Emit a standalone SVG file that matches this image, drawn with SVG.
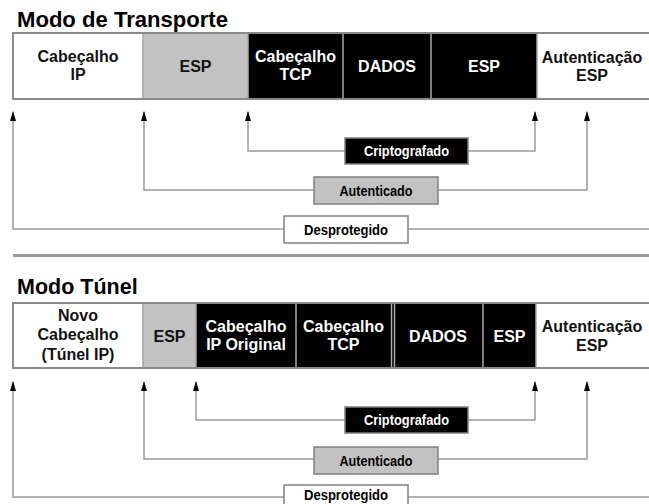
<svg xmlns="http://www.w3.org/2000/svg" width="649" height="504" viewBox="0 0 649 504">
  <defs>
    <marker id="tip" viewBox="0 0 10 6" refX="9" refY="3" markerWidth="10" markerHeight="6" markerUnits="userSpaceOnUse" orient="auto">
      <path d="M0,0 L10,3 L0,6 Z" fill="#000"/>
    </marker>
    <style>
      text { font-family: "Liberation Sans", Arial, sans-serif; font-weight: bold; }
      .title { font-size: 21.5px; fill: #000; }
      .cell { font-size: 16px; text-anchor: middle; }
      .dark { fill: #fff; }
      .lite { fill: #111; }
      .lab { font-size: 14px; text-anchor: middle; }
      .w { fill: #fff; }
      .g { fill: #c2c2c2; }
      .k { fill: #000; }
      .sep { stroke: #a8a8a8; stroke-width: 1.5; fill: none; }
      .edge { stroke: #8a8a8a; stroke-width: 2; fill: none; }
      .wire { stroke: #9a9a9a; stroke-width: 1.5; fill: none; }
      .arrow { stroke: #9a9a9a; stroke-width: 1.5; fill: none; marker-end: url(#tip); }
      .box { stroke: #808080; stroke-width: 1.5; }
    </style>
  </defs>

  <!-- ===== Transport mode ===== -->
  <text class="title" x="17" y="27" textLength="211" lengthAdjust="spacingAndGlyphs">Modo de Transporte</text>

  <g id="t-ip">
    <rect class="w" x="13" y="33" width="130" height="66"/>
    <text class="cell lite" x="78" y="62">Cabeçalho</text>
    <text class="cell lite" x="78" y="80">IP</text>
  </g>
  <g id="t-esp">
    <rect class="g" x="143" y="33" width="105" height="66"/>
    <text class="cell lite" x="195.5" y="72">ESP</text>
  </g>
  <g id="t-tcp">
    <rect class="k" x="248" y="33" width="95" height="66"/>
    <text class="cell dark" x="295.5" y="62">Cabeçalho</text>
    <text class="cell dark" x="295.5" y="80">TCP</text>
  </g>
  <g id="t-dados">
    <rect class="k" x="343" y="33" width="88" height="66"/>
    <text class="cell dark" x="387" y="72">DADOS</text>
  </g>
  <g id="t-esp-trailer">
    <rect class="k" x="431" y="33" width="106" height="66"/>
    <text class="cell dark" x="484" y="72">ESP</text>
  </g>
  <g id="t-auth">
    <rect class="w" x="537" y="33" width="112" height="66"/>
    <text class="cell lite" x="592" y="63">Autenticação</text>
    <text class="cell lite" x="592" y="81">ESP</text>
  </g>
  <!-- cell dividers and frame -->
  <g id="t-frame">
    <path class="sep" d="M143,33 V99 M248,33 V99 M343,33 V99 M431,33 V99 M537,33 V99"/>
    <path class="edge" d="M649,33 H13 V99 H649"/>
  </g>

  <!-- ===== Tunnel mode ===== -->
  <text class="title" x="17" y="294">Modo Túnel</text>

  <g id="u-newip">
    <rect class="w" x="13" y="303" width="130" height="65"/>
    <text class="cell lite" x="78" y="321">Novo</text>
    <text class="cell lite" x="78" y="340">Cabeçalho</text>
    <text class="cell lite" x="78" y="360">(Túnel IP)</text>
  </g>
  <g id="u-esp">
    <rect class="g" x="143" y="303" width="53" height="65"/>
    <text class="cell lite" x="169.5" y="342">ESP</text>
  </g>
  <g id="u-origip">
    <rect class="k" x="196" y="303" width="100" height="65"/>
    <text class="cell dark" x="246" y="332">Cabeçalho</text>
    <text class="cell dark" x="246" y="350">IP Original</text>
  </g>
  <g id="u-tcp">
    <rect class="k" x="296" y="303" width="97" height="65"/>
    <text class="cell dark" x="343.5" y="332">Cabeçalho</text>
    <text class="cell dark" x="343.5" y="350">TCP</text>
  </g>
  <g id="u-dados">
    <rect class="k" x="393" y="303" width="90" height="65"/>
    <text class="cell dark" x="438" y="342">DADOS</text>
  </g>
  <g id="u-esp-trailer">
    <rect class="k" x="483" y="303" width="53" height="65"/>
    <text class="cell dark" x="509.5" y="342">ESP</text>
  </g>
  <g id="u-auth">
    <rect class="w" x="536" y="303" width="113" height="65"/>
    <text class="cell lite" x="592" y="332">Autenticação</text>
    <text class="cell lite" x="592" y="351">ESP</text>
  </g>
  <g id="u-frame">
    <path class="sep" d="M143,303 V368 M196,303 V368 M296,303 V368 M391.5,303 V368 M394.5,303 V368 M483,303 V368 M536,303 V368"/>
    <path class="edge" d="M649,303 H13 V368 H649"/>
  </g>

  <!-- section divider -->
  <line x1="13" y1="255.5" x2="649" y2="255.5" stroke="#9a9a9a" stroke-width="3"/>

  <!-- ===== Coverage brackets ===== -->
  <g id="connectors">
    <!-- transport -->
    <path class="arrow" d="M345,151 H248 V112"/>
    <path class="arrow" d="M468,151 H535 V112"/>
    <path class="arrow" d="M314,190 H144 V112"/>
    <path class="arrow" d="M438,190 H587 V112"/>
    <path class="arrow" d="M284,229 H13 V112"/>
    <path class="wire" d="M408,229 H649"/>
    <!-- tunnel -->
    <path class="arrow" d="M345,420 H196 V382"/>
    <path class="arrow" d="M468,420 H535 V382"/>
    <path class="arrow" d="M314,459 H144 V382"/>
    <path class="arrow" d="M438,459 H587 V382"/>
    <path class="arrow" d="M284,497 H13 V382"/>
    <path class="wire" d="M408,497 H649"/>
  </g>

  <!-- coverage labels -->
  <g id="t-cript">
    <rect class="k box" x="345" y="138" width="123" height="26"/>
    <text class="lab w" x="406.5" y="156" textLength="85" lengthAdjust="spacingAndGlyphs">Criptografado</text>
  </g>
  <g id="t-autent">
    <rect class="g box" x="314" y="177" width="124" height="27"/>
    <text class="lab k" x="376" y="195.5" textLength="73" lengthAdjust="spacingAndGlyphs">Autenticado</text>
  </g>
  <g id="t-desprot">
    <rect class="w box" x="284" y="216" width="124" height="27"/>
    <text class="lab k" x="346" y="234.5" textLength="84" lengthAdjust="spacingAndGlyphs">Desprotegido</text>
  </g>

  <g id="u-cript">
    <rect class="k box" x="345" y="407" width="123" height="26"/>
    <text class="lab w" x="406.5" y="425" textLength="85" lengthAdjust="spacingAndGlyphs">Criptografado</text>
  </g>
  <g id="u-autent">
    <rect class="g box" x="314" y="447" width="124" height="27"/>
    <text class="lab k" x="376" y="465.5" textLength="73" lengthAdjust="spacingAndGlyphs">Autenticado</text>
  </g>
  <g id="u-desprot">
    <rect class="w box" x="284" y="485" width="124" height="27"/>
    <text class="lab k" x="346" y="500" textLength="84" lengthAdjust="spacingAndGlyphs">Desprotegido</text>
  </g>
</svg>
